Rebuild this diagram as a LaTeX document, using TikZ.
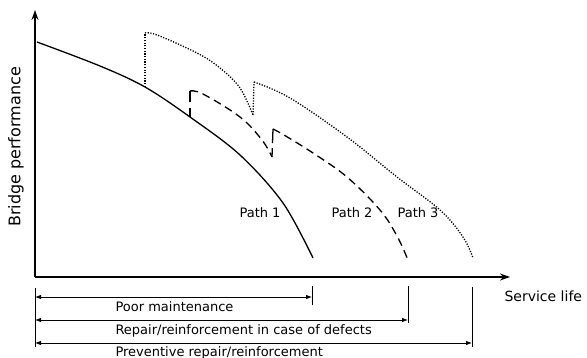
\documentclass[tikz,border=0pt]{standalone}
\usepackage{fontspec}
\setmainfont{DejaVu Sans}
\usetikzlibrary{arrows,arrows.meta}

\begin{document}
\begin{tikzpicture}[x=1pt,y=-1pt,>=stealth',
  axis line/.style={-{Stealth[length=10pt,width=7pt]},line width=1.1pt},
  path label/.style={font=\fontsize{13}{15}\selectfont},
  dim label/.style={anchor=base west,font=\fontsize{13}{15}\selectfont},
  dim line/.style={{Latex[length=6pt,width=4.5pt]}-{Latex[length=6pt,width=4.5pt]},line width=0.8pt},
  tick line/.style={line width=0.8pt},
  path one/.style={line width=1.3pt},
  path two/.style={line width=1.3pt,dash pattern=on 8pt off 5pt},
  path three/.style={line width=1.3pt,dash pattern=on 1.2pt off 1.5pt}]

  \useasboundingbox (0,0) rectangle (587,358);

  \coordinate (o) at (35,277);
  \coordinate (ytop) at (35,10);
  \coordinate (xend) at (510,277);
  \draw[axis line] (o) -- (ytop);
  \draw[axis line] (o) -- (xend);

  \node[rotate=90,font=\fontsize{16}{18}\selectfont] (ylab) at (16,147) {Bridge performance};
  \node[dim label,font=\fontsize{14}{16}\selectfont] (xlab) at (501,302) {Service life};

  % repair points on the curves
  \coordinate (r1) at (145,87);
  \coordinate (r1up) at (145,33);
  \coordinate (r2) at (190,117);
  \coordinate (r2up) at (190,91);
  \coordinate (r3) at (253,115);
  \coordinate (r3up) at (254,82);
  \coordinate (r4) at (272,157);
  \coordinate (r4up) at (273,129);

  % path 1
  \draw[path one] plot[smooth,tension=0.55] coordinates {(37,42) (100,66) (r1) (r2) (240,155) (283,203) (313,258)};
  % path 2
  \draw[path two,dash pattern=on 9pt off 6pt on 11pt off 0pt] (r2) -- (r2up);
  \draw[path two] plot[smooth,tension=0.6] coordinates {(r2up) (203,94) (240,117) (262,140) (r4)};
  \draw[path two,dash pattern=on 9pt off 5pt on 14pt off 0pt] (r4) -- (r4up);
  \draw[path two] plot[smooth,tension=0.6] coordinates {(r4up) (284,135) (313,153) (347,177) (380,210) (397,236) (408,260)};
  % path 3
  \draw[path three] (r1) -- (r1up);
  \draw[path three] plot[smooth,tension=0.6] coordinates {(r1up) (157,35) (197,53) (220,68) (240,88) (r3)};
  \draw[path three] (r3) -- (r3up);
  \draw[path three] plot[smooth,tension=0.6] coordinates {(r3up) (290,98) (347,137) (397,177) (440,210) (463,237) (473,258)};

  \node[path label] (p1) at (260,213) {Path 1};
  \node[path label] (p2) at (352,213) {Path 2};
  \node[path label] (p3) at (418,213) {Path 3};

  % service life bars
  \coordinate (t0a) at (35,288);
  \coordinate (t0b) at (35,347);
  \coordinate (t1a) at (312,286);
  \coordinate (t1b) at (312,305);
  \coordinate (t2a) at (408,286);
  \coordinate (t2b) at (408,323);
  \coordinate (t3a) at (472,287);
  \coordinate (t3b) at (472,347);
  \path[tick line]
    (t0a) edge (t0b)
    (t1a) edge (t1b)
    (t2a) edge (t2b)
    (t3a) edge (t3b);

  \draw[dim line] (35,297) -- (t1a |- 0,297);
  \draw[dim line] (35,320) -- (t2a |- 0,320);
  \draw[dim line] (35,343) -- (t3a |- 0,343);

  \node[dim label] (d1) at (112,312) {Poor maintenance};
  \node[dim label] (d2) at (112,335) {Repair/reinforcement in case of defects};
  \node[dim label] (d3) at (112,356) {Preventive repair/reinforcement};
\end{tikzpicture}
\end{document}
